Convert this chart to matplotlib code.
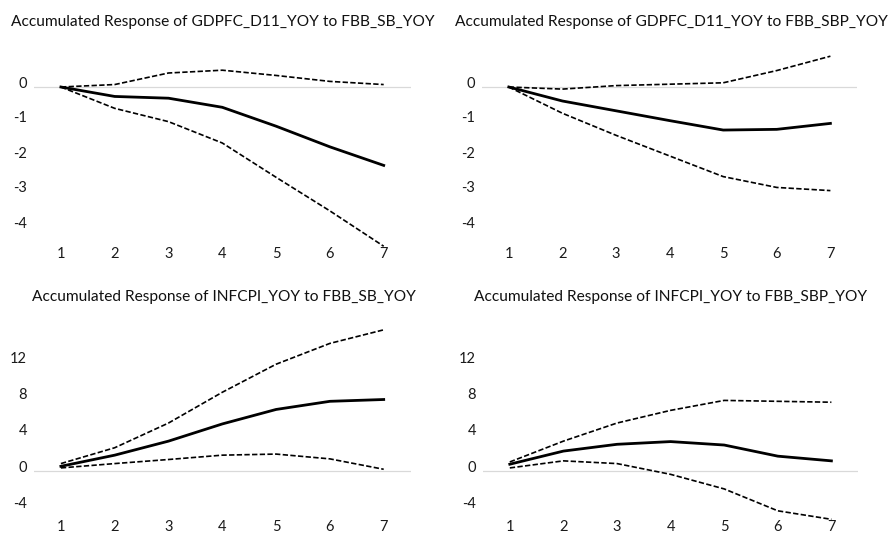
import matplotlib
matplotlib.use("Agg")
import matplotlib.pyplot as plt
import matplotlib.transforms as mtransforms

# ---------------- data ----------------
periods = [1, 2, 3, 4, 5, 6, 7]

titles = [
    "Accumulated Response of GDPFC_D11_YOY to FBB_SB_YOY",
    "Accumulated Response of GDPFC_D11_YOY to FBB_SBP_YOY",
    "Accumulated Response of INFCPI_YOY to FBB_SB_YOY",
    "Accumulated Response of INFCPI_YOY to FBB_SBP_YOY",
]

gdp_sb_resp = [0.0, -0.27, -0.32, -0.58, -1.12, -1.71, -2.24]
gdp_sb_upper = [0.0, 0.07, 0.40, 0.48, 0.33, 0.16, 0.07]
gdp_sb_lower = [0.0, -0.61, -0.99, -1.60, -2.58, -3.54, -4.55]

gdp_sbp_resp = [0.0, -0.40, -0.68, -0.96, -1.23, -1.21, -1.04]
gdp_sbp_upper = [0.0, -0.06, 0.04, 0.08, 0.12, 0.47, 0.88]
gdp_sbp_lower = [0.0, -0.75, -1.38, -1.97, -2.56, -2.87, -2.96]

inf_sb_resp = [0.52, 1.75, 3.3, 5.2, 6.8, 7.7, 7.9]
inf_sb_upper = [0.82, 2.57, 5.3, 8.7, 11.8, 14.1, 15.6]
inf_sb_lower = [0.34, 0.82, 1.27, 1.75, 1.87, 1.34, 0.19]

inf_sbp_resp = [0.75, 2.2, 2.95, 3.25, 2.87, 1.64, 1.12]
inf_sbp_upper = [1.0, 3.3, 5.3, 6.7, 7.8, 7.7, 7.6]
inf_sbp_lower = [0.34, 1.12, 0.82, -0.37, -1.98, -4.4, -5.34]

gdp_ticks = [0, -1, -2, -3, -4]
inf_ticks = [12, 8, 4, 0, -4]

# ---------------- layout ----------------
W, H = 889, 534
fig = plt.figure(figsize=(W / 100, H / 100), dpi=100)
fig.patch.set_facecolor("white")

FONT = ["Lato", "DejaVu Sans"]


def make_axes(x_left_px, ppx, y0_px, ppy, xlim, ylim):
    left = x_left_px / W
    width = (xlim[1] - xlim[0]) * ppx / W
    top_px = y0_px - ylim[1] * ppy
    bot_px = y0_px - ylim[0] * ppy
    ax = fig.add_axes([left, 1 - bot_px / H, width, (bot_px - top_px) / H])
    ax.set_xlim(*xlim)
    ax.set_ylim(*ylim)
    return ax


panels = [
    # x_left, ppx, y0, ppy, ylim, ticks, resp, up, lo, title center
    (34, 53.8, 87, 35.0, (-4.5, 1.0), gdp_ticks, gdp_sb_resp, gdp_sb_upper, gdp_sb_lower, (223, 22)),
    (482, 53.6, 87, 35.0, (-4.5, 1.0), gdp_ticks, gdp_sbp_resp, gdp_sbp_upper, gdp_sbp_lower, (671, 22)),
    (34, 53.8, 471, 9.05, (-5.1, 16.0), inf_ticks, inf_sb_resp, inf_sb_upper, inf_sb_lower, (224, 297)),
    (483, 53.6, 471, 9.05, (-5.1, 16.0), inf_ticks, inf_sbp_resp, inf_sbp_upper, inf_sbp_lower, (671, 297)),
]

dash = (0, (3.2, 1.4))

for i, (xl, ppx, y0, ppy, ylim, ticks, resp, up, lo, tc) in enumerate(panels):
    ax = make_axes(xl, ppx, y0, ppy, (0.5, 7.5), ylim)
    for s in ax.spines.values():
        s.set_visible(False)
    ax.set_facecolor("none")
    ax.axhline(0, color="#d9d9d9", lw=0.9, zorder=1)
    ax.plot(periods, up, color="black", lw=1.2, linestyle=dash, clip_on=False, zorder=3)
    ax.plot(periods, lo, color="black", lw=1.2, linestyle=dash, clip_on=False, zorder=3)
    ax.plot(periods, resp, color="black", lw=2.0, solid_joinstyle="round", clip_on=False, zorder=4)

    ax.set_xticks(periods)
    ax.set_xticklabels([str(p) for p in periods], fontfamily=FONT, fontsize=10.5, color="#1a1a1a")
    ax.set_yticks(ticks)
    ax.set_yticklabels([str(t) for t in ticks], fontfamily=FONT, fontsize=10.5, color="#1a1a1a")
    ax.tick_params(axis="both", length=0)
    ax.tick_params(axis="y", pad=5)
    ax.tick_params(axis="x", pad=2)
    off = mtransforms.ScaledTranslation(0, 5 / 100, fig.dpi_scale_trans)
    for lab in ax.get_yticklabels():
        lab.set_transform(lab.get_transform() + off)

    fig.text(tc[0] / W, 1 - tc[1] / H, titles[i], ha="center", va="center",
             fontfamily=FONT, fontsize=11.2, color="#111111")

fig.savefig("out.png", dpi=100, facecolor="white")
